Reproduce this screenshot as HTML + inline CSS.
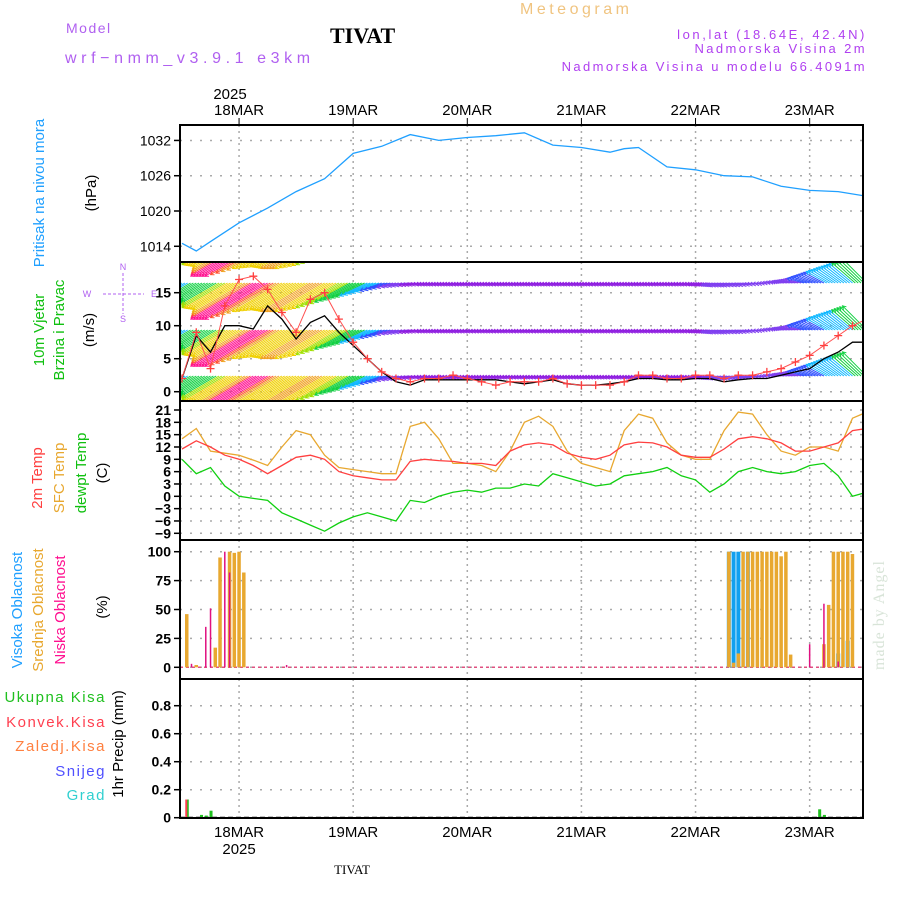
<!DOCTYPE html>
<html><head><meta charset="utf-8"><style>
body{margin:0;background:#fff}
svg{display:block}
text{font-family:"Liberation Sans",sans-serif}
</style></head><body>
<svg id="c" width="900" height="900" viewBox="0 0 900 900" xmlns="http://www.w3.org/2000/svg">
<defs>
<clipPath id="cp1"><rect x="181" y="125" width="681" height="136"/></clipPath>
<clipPath id="cp2"><rect x="181" y="263" width="681" height="137"/></clipPath>
<clipPath id="cp3"><rect x="181" y="402" width="681" height="137"/></clipPath>
<clipPath id="cp4"><rect x="181" y="541" width="681" height="137"/></clipPath>
<clipPath id="cp5"><rect x="181" y="680" width="681" height="137"/></clipPath>
</defs>
<text x="520" y="14" font-size="16" fill="#f0c480" letter-spacing="3.5">Meteogram</text>
<text x="66" y="33" font-size="14" fill="#b060f0" letter-spacing="1.5">Model</text>
<text x="330" y="43" font-size="22" font-weight="bold" fill="#000" style="font-family:'Liberation Serif',serif">TIVAT</text>
<text x="65" y="63" font-size="16" fill="#b060f0" letter-spacing="4.6">wrf−nmm_v3.9.1 e3km</text>
<text x="867" y="39" font-size="13" fill="#b040f0" text-anchor="end" letter-spacing="2.6">lon,lat (18.64E, 42.4N)</text>
<text x="867" y="53" font-size="13" fill="#b040f0" text-anchor="end" letter-spacing="2.4">Nadmorska Visina 2m</text>
<text x="867" y="71" font-size="13" fill="#b040f0" text-anchor="end" letter-spacing="2.4">Nadmorska Visina u modelu 66.4091m</text>
<text x="352" y="874" font-size="13" fill="#000" text-anchor="middle" style="font-family:'Liberation Serif',serif">TIVAT</text>
<text transform="translate(884,615) rotate(-90)" font-size="16" fill="#d8e4d8" text-anchor="middle" style="font-family:'Liberation Serif',serif" letter-spacing="1">made by Angel</text>

<text transform="translate(44,193) rotate(-90)" font-size="15" fill="#20a0ff" text-anchor="middle">Pritisak na nivou mora</text>
<text transform="translate(96,193) rotate(-90)" font-size="15" fill="#000" text-anchor="middle">(hPa)</text>
<text transform="translate(44,330) rotate(-90)" font-size="15" fill="#10c010" text-anchor="middle">10m Vjetar</text>
<text transform="translate(64,330) rotate(-90)" font-size="15" fill="#10c010" text-anchor="middle">Brzina i Pravac</text>
<text transform="translate(94,330) rotate(-90)" font-size="15" fill="#000" text-anchor="middle">(m/s)</text>
<g stroke="#b060f0" fill="#b060f0" font-size="9">
<line x1="123" y1="273" x2="123" y2="314" stroke-dasharray="3,2"/>
<line x1="103" y1="294" x2="144" y2="294" stroke-dasharray="3,2"/>
<text x="123" y="270" text-anchor="middle" stroke="none">N</text>
<text x="123" y="322" text-anchor="middle" stroke="none">S</text>
<text x="87" y="297" text-anchor="middle" stroke="none">W</text>
<text x="154" y="297" text-anchor="middle" stroke="none">E</text>
</g>
<text transform="translate(42,478) rotate(-90)" font-size="15" fill="#ff4040" text-anchor="middle">2m Temp</text>
<text transform="translate(64,478) rotate(-90)" font-size="15" fill="#e8a830" text-anchor="middle">SFC Temp</text>
<text transform="translate(86,473) rotate(-90)" font-size="15" fill="#10c010" text-anchor="middle">dewpt Temp</text>
<text transform="translate(107,473) rotate(-90)" font-size="15" fill="#000" text-anchor="middle">(C)</text>
<text transform="translate(22,610) rotate(-90)" font-size="15" fill="#20a0ff" text-anchor="middle">Visoka Oblacnost</text>
<text transform="translate(43,610) rotate(-90)" font-size="15" fill="#e8a830" text-anchor="middle">Srednja Oblacnost</text>
<text transform="translate(65,610) rotate(-90)" font-size="15" fill="#ff1090" text-anchor="middle">Niska Oblacnost</text>
<text transform="translate(107,607) rotate(-90)" font-size="15" fill="#000" text-anchor="middle">(%)</text>
<g font-size="15" text-anchor="end" letter-spacing="1.5">
<text x="106" y="702" fill="#20c020">Ukupna Kisa</text>
<text x="106" y="727" fill="#ff4050">Konvek.Kisa</text>
<text x="106" y="751" fill="#ff8040">Zaledj.Kisa</text>
<text x="106" y="776" fill="#5050ff">Snijeg</text>
<text x="106" y="800" fill="#30d0d0">Grad</text>
</g>
<text transform="translate(123,744) rotate(-90)" font-size="15" fill="#000" text-anchor="middle">1hr Precip (mm)</text>
</svg>
<script>
// ---- data (hours since 17MAR 12Z) ----
const dayHours = [12,36,60,84,108,132];
const dayLabels = ["18MAR","19MAR","20MAR","21MAR","22MAR","23MAR"];
const hours3 = [0,3,6,9,12,15,18,21,24,27,30,33,36,39,42,45,48,51,54,57,60,63,66,69,72,75,78,81,84,87,90,93,96,99,102,105,108,111,114,117,120,123,126,129,132,135,138,141,144];
const pressHours = [0,3,6,12,18,24,30,36,42,48,54,60,66,72,78,84,90,93,96,102,108,114,120,126,132,138,144];
const pressure = [1014.5,1013.2,1014.8,1018,1020.5,1023.3,1025.5,1029.8,1031,1033,1032,1032.5,1032.8,1033.3,1031.2,1030.8,1030,1030.6,1030.8,1027.5,1027,1026,1025.8,1024.2,1023.5,1023.3,1022.5];
const pressTicks = [1014,1020,1026,1032];
const windSpeed = [2,8.5,6,10,10,9.5,13,11,8,10.5,11.5,9,7,5,3,1.5,1,1.8,1.8,1.8,1.8,1.8,1.8,1.5,1.2,1.5,1.8,1.2,1,1,1.2,1.5,2,2,1.8,1.8,2,2,1.5,1.8,2,2,2.5,3,3.5,5,6,7.5,7.5];
const windGust = [2,9,3.5,13,17,17.5,15.5,12,9,14,15,11,7.5,5,3,2,1.5,2,2,2.5,2,1.5,1,1.5,1.5,1.5,2,1.2,1,1,1,1.5,2.5,2.5,2,2,2.5,2.5,2,2.5,2.5,3,3.5,4.5,5.5,7,8.5,10,11];
const arrowSpeed = [7,9,9,13,14,19,19,15,14,15,15,13,10,8,6,4,3,2.5,2.5,2.5,2.5,2.5,2.5,2.5,2.5,2.5,2.5,2.5,2.5,2.5,2.5,2.5,2.5,2.5,2.5,2.5,2.5,3,4,4,3.5,3,3,4,5,6,7,8,9];
const arrowDir = [60,60,60,60,60,60,60,60,60,60,60,60,62,65,70,75,78,80,80,80,80,80,80,80,80,80,80,80,80,80,80,80,80,80,80,80,80,80,80,80,80,85,95,100,110,118,125,130,135];
const windTicks = [0,5,10,15];
const t2m = [11.5,13.5,12,10,9,7.5,5.5,7.5,9.5,10,9,6,5,4.5,4,4,8.5,9,8.7,8.5,8,8,7.5,11,12.5,13,12.5,10.5,9.5,9,10,12.5,13.2,13,12,10,9.5,9.5,11.5,14,14.5,14,13,11,11,12,13,16,16.5];
const tsfc = [14,16.5,11,10.5,10,8.8,7.5,12,16,15,10,7,6.5,6,5.5,5.5,17,18,14,8,8,7.5,6,11,18,19.5,17,11,8,7,6,16,20,19,13,10,9,9,16,20.5,20,15,11,10,12,12,11,19,20.5];
const tdew = [9,5.5,7,2.5,0,-0.5,-1,-4,-5.5,-7,-8.5,-6.5,-5,-4,-5,-6,-1,-1.5,0,1,1.5,1,2,2,3,2.5,5.5,4.5,3.5,2.5,3,5,5.5,6,7,5,4,1,3,6,7,6,5.5,6,7.5,8,5,0,1];
const tempTicks = [-9,-6,-3,0,3,6,9,12,15,18,21];
const midHours = [1,3,7,8,10,11,12,13,115,116,117,118,119,120,121,122,123,124,125,126,127,128,135,136,137,138,139,140,141,144];
const midCloud = [46,2,17,95,100,99,100,82,100,4,12,100,100,100,100,100,100,100,100,96,100,11,20,54,100,100,100,100,98,4];
const highHours = [115,116,117,119,138,140];
const highCloud = [100,100,100,100,12,23];
const lowHours = [2,5,6,9,10,22,132,135,138];
const lowCloud = [3,35,51,100,82,2,20,55,5];
const cloudTicks = [0,25,50,75,100];
const rainHours = [1,4,5,6,134,135];
const rainTotal = [0.13,0.02,0.015,0.05,0.06,0.02];
const convHours = [1];
const convRain = [0.13];
const precipTicks = [0,0.2,0.4,0.6,0.8];

// ---- scales ----
const X0=182, KX=4.755, XL=180, XR=863;
const xH=h=>X0+h*KX;
const yP=p=>211-(p-1020)*5.88;
const yW=v=>391.7-v*6.6;
const yT=t=>410+(21-t)*4.11;
const yC=c=>667.3-c*1.156;
const yR=r=>817.7-r*140;
const NS="http://www.w3.org/2000/svg";
const svg=document.getElementById('c');
function el(tag,attrs,parent){const e=document.createElementNS(NS,tag);for(const k in attrs)e.setAttribute(k,attrs[k]);(parent||svg).appendChild(e);return e;}
function pathOf(hs,vs,fy){return hs.map((h,i)=>(i?'L':'M')+xH(h).toFixed(1)+','+fy(vs[i]).toFixed(1)).join('');}
function interp(hs,vs,h){for(let i=0;i<hs.length-1;i++){if(h<=hs[i+1]){const f=(h-hs[i])/(hs[i+1]-hs[i]);return vs[i]+f*(vs[i+1]-vs[i]);}}return vs[vs.length-1];}

const panels=[{t:125,b:262,ticks:pressTicks,fy:yP,fmt:v=>v,bold:false,name:'pressure'},
{t:262,b:401,ticks:windTicks,fy:yW,fmt:v=>v,bold:true,name:'wind'},
{t:401,b:540,ticks:tempTicks,fy:yT,fmt:v=>v<0?'−'+(-v):v,bold:true,name:'temp'},
{t:540,b:679,ticks:cloudTicks,fy:yC,fmt:v=>v,bold:true,name:'cloud'},
{t:679,b:818,ticks:precipTicks,fy:yR,fmt:v=>v===0?'0':v.toFixed(1),bold:true,name:'precip'}];
panels.forEach((p,pi)=>{
  const g=el('g',{});
  
  
  dayHours.forEach(h=>{
    const l=el('line',{x1:xH(h),x2:xH(h),y1:p.t,y2:p.b,stroke:'#aaa','stroke-width':1.5,'stroke-dasharray':'2,4'},g);
    
    
  });
  p.ticks.forEach(v=>{
    const y=p.fy(v);
    const l=el('line',{x1:XL,x2:XR,y1:y,y2:y,stroke:'#aaa','stroke-width':1.5,'stroke-dasharray':'2,8'},g);
    
    
    el('line',{x1:174,x2:XL,y1:y,y2:y,stroke:'#000','stroke-width':1.5},g);
    const t=el('text',{x:171,y:y+5,'font-size':14,'text-anchor':'end','font-weight':p.bold?'bold':'normal',fill:'#000'},g);
    t.textContent=p.fmt(v);
    
    
  });
});
// top & bottom day labels
const ty=el('text',{x:230,y:99,'font-size':15,'text-anchor':'middle',fill:'#000'});ty.textContent='2025';


dayHours.forEach((h,i)=>{
  const t=el('text',{x:xH(h),y:115,'font-size':15,'text-anchor':'middle',fill:'#000'});t.textContent=dayLabels[i];
  
  
  el('line',{x1:xH(h),x2:xH(h),y1:118,y2:125,stroke:'#000'});
  const b=el('text',{x:xH(h),y:837,'font-size':15,'text-anchor':'middle',fill:'#000'});b.textContent=dayLabels[i];
  
  
});
const by=el('text',{x:xH(12),y:854,'font-size':15,'text-anchor':'middle',fill:'#000'});by.textContent='2025';



// pressure
const pl=el('path',{d:pathOf(pressHours,pressure,yP),fill:'none',stroke:'#20a0ff','stroke-width':1.3,'clip-path':'url(#cp1)'});



// wind arrows
function spdColor(s){const st=[[0,'#9020e0'],[3,'#8040f0'],[4.5,'#3050ff'],[6,'#10b8ff'],[8,'#10d040'],[11,'#a0e000'],[13,'#f0d000'],[15,'#f0a020'],[17,'#ff5030'],[18.5,'#ff1090']];let c=st[0][1];st.forEach(a=>{if(s>=a[0])c=a[1];});return c;}
const wg=el('g',{'clip-path':'url(#cp2)','stroke-width':1});


const rows=[240,283,330,376];
for(let h=0;h<=144;h+=0.6){
  const s=interp(hours3,arrowSpeed,h), d=interp(hours3,arrowDir,h)*Math.PI/180;
  const L=s*3.8, dx=-Math.sin(d)*L, dy=Math.cos(d)*L, c=spdColor(s);
  const ang=Math.atan2(dy,dx);
  rows.forEach(y0=>{
    const x0=xH(h), x1=x0+dx, y1=y0+dy;
    const a1=ang+2.6, a2=ang-2.6;
    el('path',{d:`M${x0.toFixed(1)},${y0}L${x1.toFixed(1)},${y1.toFixed(1)}M${(x1+4*Math.cos(a1)).toFixed(1)},${(y1+4*Math.sin(a1)).toFixed(1)}L${x1.toFixed(1)},${y1.toFixed(1)}L${(x1+4*Math.cos(a2)).toFixed(1)},${(y1+4*Math.sin(a2)).toFixed(1)}`,stroke:c,fill:'none'},wg);
  });
}
const ws=el('path',{d:pathOf(hours3,windSpeed,yW),fill:'none',stroke:'#000','stroke-width':1.3,'clip-path':'url(#cp2)'});


const gl=el('path',{d:pathOf(hours3,windGust,yW),fill:'none',stroke:'#ff5050','stroke-width':1,'clip-path':'url(#cp2)'});


hours3.forEach((h,i)=>{const x=xH(h),y=yW(windGust[i]);
  const m=el('path',{d:`M${x-4},${y}H${x+4}M${x},${y-4}V${y+4}`,stroke:'#ff4040','stroke-width':1.3,'clip-path':'url(#cp2)'});
  
  });

// temps
[[tsfc,'#e8a830','tsfc-line'],[t2m,'#ff4040','t2m-line'],[tdew,'#10d010','dewpoint-line']].forEach(s=>{
  const p=el('path',{d:pathOf(hours3,s[0],yT),fill:'none',stroke:s[1],'stroke-width':1.3,'clip-path':'url(#cp3)'});
  
  
});

// clouds
const z=el('line',{x1:XL,x2:XR,y1:yC(0),y2:yC(0),stroke:'#e05080','stroke-width':1.5,'stroke-dasharray':'3,3'});


function bars(hs,vs,fy,w,off,col,name,cp){hs.forEach((h,i)=>{const y=fy(vs[i]),y0=fy(0);
  const r=el('rect',{x:xH(h)+off-w/2,y:y,width:w,height:Math.max(0.5,y0-y),fill:col,'clip-path':cp});
  
  });}
bars(highHours,highCloud,yC,4,0,'#10a0f0','high-cloud-bar','url(#cp4)');
bars(midHours,midCloud,yC,3.5,0,'#e8a830','mid-cloud-bar','url(#cp4)');
bars(lowHours,lowCloud,yC,1.5,0,'#e01080','low-cloud-bar','url(#cp4)');

// precip
const pz=el('line',{x1:XL,x2:XR,y1:yR(0),y2:yR(0),stroke:'#000','stroke-width':2,'stroke-dasharray':'5,3'});


bars(rainHours,rainTotal,yR,3,0.5,'#20c020','total-rain-bar','url(#cp5)');
bars(convHours,convRain,yR,2,-0.5,'#ff4050','convective-rain-bar','url(#cp5)');

// frames
panels.forEach(p=>{const f=el('rect',{x:XL,y:p.t,width:XR-XL,height:p.b-p.t,fill:'none',stroke:'#000','stroke-width':2});
  
  });
</script>
</body></html>
